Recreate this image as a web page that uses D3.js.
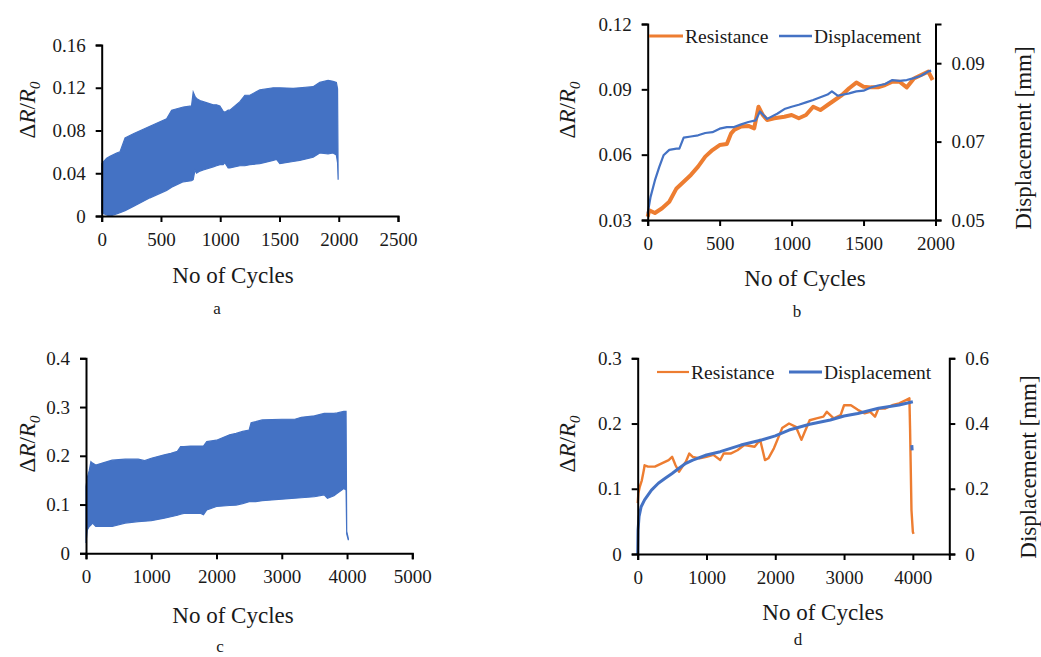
<!DOCTYPE html>
<html>
<head>
<meta charset="utf-8">
<script src="https://cdn.jsdelivr.net/npm/d3@7"></script>
<style>
  body { margin: 0; background: #fff; }
  svg { display: block; font-family: "Liberation Serif", "Times New Roman", serif; }
  svg text { font-family: "Liberation Serif", "Times New Roman", serif !important; }
  .tick text { fill: #1a1a1a; font-size: 19px; }
</style>
</head>
<body>
<svg width="1041" height="657"></svg>
<script>
// panel a: envelope of the oscillating resistance signal
const cyclesA = [0, 42, 70, 126, 154, 197, 267, 407, 548, 590, 688, 758, 772, 787, 800, 829, 857, 941, 969, 997, 1025, 1039, 1067, 1081, 1166, 1208, 1250, 1334, 1447, 1475, 1503, 1615, 1671, 1784, 1840, 1910, 1952, 1980, 1990, 1995];
const upperA  = [0.049, 0.054, 0.056, 0.059, 0.060, 0.073, 0.077, 0.084, 0.091, 0.099, 0.102, 0.103, 0.116, 0.112, 0.110, 0.108, 0.107, 0.104, 0.104, 0.103, 0.098, 0.097, 0.099, 0.099, 0.107, 0.113, 0.113, 0.118, 0.120, 0.120, 0.120, 0.1195, 0.120, 0.121, 0.125, 0.127, 0.126, 0.125, 0.119, 0.034];
const lowerA  = [0.003, 0.001, 0.000, 0.002, 0.003, 0.005, 0.009, 0.017, 0.024, 0.027, 0.032, 0.033, 0.034, 0.043, 0.040, 0.042, 0.043, 0.046, 0.047, 0.048, 0.048, 0.050, 0.045, 0.045, 0.047, 0.047, 0.048, 0.049, 0.052, 0.053, 0.049, 0.051, 0.052, 0.055, 0.059, 0.058, 0.059, 0.057, 0.050, 0.034];

// panel b: resistance (left axis) and displacement (right axis)
const cyclesBRes = [0, 10, 50, 100, 150, 200, 250, 300, 350, 400, 450, 500, 550, 580, 600, 650, 700, 740, 770, 800, 830, 880, 950, 1000, 1050, 1100, 1150, 1200, 1250, 1300, 1350, 1400, 1450, 1500, 1550, 1600, 1650, 1700, 1750, 1800, 1850, 1900, 1950, 1980];
const resB       = [0.0315, 0.0345, 0.0332, 0.0354, 0.0384, 0.0445, 0.0476, 0.0507, 0.0545, 0.0591, 0.0621, 0.0644, 0.0649, 0.0698, 0.0713, 0.0729, 0.0732, 0.0721, 0.082, 0.0782, 0.0759, 0.0767, 0.0774, 0.0782, 0.0767, 0.0782, 0.082, 0.0805, 0.0828, 0.0851, 0.0874, 0.0905, 0.0931, 0.0912, 0.0909, 0.0909, 0.092, 0.0935, 0.0935, 0.0909, 0.095, 0.0966, 0.0981, 0.0943];
const cyclesBDisp = [0, 20, 50, 80, 110, 150, 200, 220, 250, 300, 350, 400, 450, 500, 550, 600, 650, 700, 750, 780, 830, 900, 950, 1000, 1050, 1100, 1150, 1200, 1250, 1280, 1320, 1400, 1450, 1500, 1550, 1600, 1650, 1700, 1750, 1800, 1850, 1900, 1950, 1970];
const dispB       = [0.0517, 0.0559, 0.0601, 0.0635, 0.0665, 0.0679, 0.0682, 0.0682, 0.071, 0.0713, 0.0716, 0.0722, 0.0724, 0.0733, 0.0737, 0.0737, 0.0744, 0.075, 0.0754, 0.0777, 0.0758, 0.0771, 0.0783, 0.0789, 0.0794, 0.08, 0.0806, 0.0813, 0.082, 0.0828, 0.0817, 0.0823, 0.0828, 0.083, 0.0838, 0.0843, 0.0847, 0.0857, 0.0855, 0.0857, 0.0862, 0.0868, 0.0879, 0.0881];

// panel c: envelope of the oscillating resistance signal
const cyclesC = [0, 20, 50, 75, 100, 150, 250, 400, 600, 800, 900, 1000, 1200, 1300, 1400, 1450, 1500, 1600, 1750, 1800, 1850, 2000, 2200, 2300, 2400, 2500, 2530, 2600, 2700, 3000, 3200, 3300, 3500, 3650, 3700, 3800, 3850, 3950, 3985, 3995, 4020];
const upperC  = [0.137, 0.155, 0.170, 0.188, 0.185, 0.181, 0.185, 0.191, 0.193, 0.193, 0.190, 0.195, 0.202, 0.205, 0.209, 0.219, 0.219, 0.220, 0.220, 0.220, 0.229, 0.232, 0.243, 0.246, 0.250, 0.253, 0.268, 0.270, 0.2735, 0.275, 0.275, 0.279, 0.282, 0.287, 0.287, 0.287, 0.288, 0.291, 0.291, 0.045, 0.030];
const lowerC  = [0.021, 0.048, 0.055, 0.058, 0.062, 0.055, 0.055, 0.055, 0.062, 0.065, 0.066, 0.067, 0.072, 0.075, 0.078, 0.080, 0.082, 0.082, 0.082, 0.079, 0.089, 0.096, 0.098, 0.099, 0.102, 0.106, 0.106, 0.106, 0.108, 0.111, 0.113, 0.114, 0.116, 0.120, 0.113, 0.118, 0.123, 0.133, 0.130, 0.040, 0.027];

// panel d: resistance (left axis) and displacement (right axis)
const cyclesDRes = [0, 10, 30, 60, 90, 100, 150, 250, 350, 450, 500, 550, 600, 650, 700, 750, 800, 900, 1000, 1100, 1200, 1250, 1350, 1450, 1550, 1700, 1780, 1850, 1900, 1980, 2000, 2050, 2100, 2200, 2300, 2380, 2420, 2500, 2600, 2700, 2750, 2850, 2950, 3000, 3100, 3200, 3300, 3380, 3450, 3500, 3600, 3700, 3800, 3900, 3950, 3960, 3980, 4000, 4010];
const resD       = [0.078, 0.093, 0.103, 0.113, 0.129, 0.136, 0.134, 0.134, 0.139, 0.144, 0.149, 0.136, 0.126, 0.134, 0.1415, 0.154, 0.149, 0.1467, 0.149, 0.152, 0.144, 0.154, 0.154, 0.159, 0.167, 0.1645, 0.175, 0.144, 0.1467, 0.162, 0.167, 0.18, 0.193, 0.2, 0.195, 0.175, 0.185, 0.205, 0.208, 0.2105, 0.218, 0.208, 0.213, 0.228, 0.228, 0.221, 0.2156, 0.218, 0.2105, 0.223, 0.223, 0.228, 0.231, 0.236, 0.2386, 0.19, 0.0675, 0.034, 0.0307];
const cyclesDDisp = [0, 5, 20, 50, 100, 200, 300, 400, 500, 600, 700, 800, 1000, 1200, 1500, 1800, 2000, 2200, 2500, 2800, 3000, 3200, 3500, 3800, 4000];
const dispD       = [0, 0.074, 0.115, 0.145, 0.166, 0.196, 0.217, 0.232, 0.247, 0.263, 0.278, 0.288, 0.3035, 0.3137, 0.334, 0.3495, 0.362, 0.38, 0.398, 0.411, 0.423, 0.431, 0.447, 0.457, 0.467];
const cyclesDDispTail = [3985, 3990];
const dispDTail       = [0.334, 0.318];

// tick values
const ticksAX = [0, 500, 1000, 1500, 2000, 2500];
const ticksAY = [0, 0.04, 0.08, 0.12, 0.16];
const ticksBX = [0, 500, 1000, 1500, 2000];
const ticksBY = [0.03, 0.06, 0.09, 0.12];
const ticksBY2 = [0.05, 0.07, 0.09];
const ticksCX = [0, 1000, 2000, 3000, 4000, 5000];
const ticksCY = [0, 0.1, 0.2, 0.3, 0.4];
const ticksDX = [0, 1000, 2000, 3000, 4000];
const ticksDY = [0, 0.1, 0.2, 0.3];
const ticksDY2 = [0, 0.2, 0.4, 0.6];

const blue = '#4472C4';
const orange = '#ED7D31';
const svg = d3.select('svg');

function fmt(d) { return d === 0 ? '0' : String(d); }

function styleAxis(g) {
    g.attr('font-family', null).attr('font-size', null);
    g.select('.domain').attr('stroke', '#000').attr('stroke-width', 2);
    g.selectAll('.tick line').attr('stroke', '#000').attr('stroke-width', 2);
}

function axes(p) {
    const gx = svg.append('g')
        .attr('transform', `translate(0,${p.y.range()[0]})`)
        .call(d3.axisBottom(p.x).tickValues(p.tx).tickFormat(fmt).tickSizeOuter(0).tickSize(6).tickPadding(10))
        .call(styleAxis);
    gx.selectAll('.tick text').attr('dy', '0.74em');

    svg.append('g')
        .attr('transform', `translate(${p.x.range()[0]},0)`)
        .call(d3.axisLeft(p.y).tickValues(p.ty).tickFormat(fmt).tickSizeOuter(0).tickSize(6).tickPadding(10))
        .call(styleAxis);

    if (p.y2) {
        svg.append('g')
            .attr('transform', `translate(${p.x2end},0)`)
            .call(d3.axisRight(p.y2).tickValues(p.ty2).tickFormat(fmt).tickSizeOuter(0).tickSize(6).tickPadding(10))
            .call(styleAxis);
    }
}

function titles(p) {
    // y title  ΔR/R0
    const t = svg.append('text')
        .attr('transform', `translate(${p.ylab[0]},${p.ylab[1]}) rotate(-90)`)
        .attr('text-anchor', 'middle')
        .style('font-size', '23px')
        .attr('fill', '#1a1a1a');
    t.append('tspan').text('Δ');
    t.append('tspan').style('font-style', 'italic').text('R');
    t.append('tspan').text('/');
    t.append('tspan').style('font-style', 'italic').text('R');
    t.append('tspan').style('font-style', 'italic').style('font-size', '15px').attr('dy', 5).text('0');

    svg.append('text')
        .attr('x', p.xlab[0]).attr('y', p.xlab[1])
        .attr('text-anchor', 'middle')
        .style('font-size', '23px')
        .attr('fill', '#1a1a1a')
        .text('No of Cycles');

    svg.append('text')
        .attr('x', p.letter[0]).attr('y', p.letter[1])
        .attr('text-anchor', 'middle')
        .style('font-size', '17px')
        .attr('fill', '#1a1a1a')
        .text(p.name);

    if (p.y2lab) {
        svg.append('text')
            .attr('transform', `translate(${p.y2lab[0]},${p.y2lab[1]}) rotate(-90)`)
            .attr('text-anchor', 'middle')
            .style('font-size', '23px')
            .attr('fill', '#1a1a1a')
            .text('Displacement [mm]');
    }
}

function band(p, cyc, up, lo) {
    const pts = cyc.map((c, i) => ({c: c, u: up[i], l: lo[i]}));
    svg.append('path')
        .datum(pts)
        .attr('fill', blue)
        .attr('stroke', blue)
        .attr('stroke-width', 1.2)
        .attr('d', d3.area()
            .x(d => p.x(d.c))
            .y0(d => p.y(d.l))
            .y1(d => p.y(d.u)));
}

function line(x, y, cyc, vals, color, w) {
    const pts = cyc.map((c, i) => [c, vals[i]]);
    svg.append('path')
        .datum(pts)
        .attr('fill', 'none')
        .attr('stroke', color)
        .attr('stroke-width', w)
        .attr('stroke-linejoin', 'round')
        .attr('d', d3.line().x(d => x(d[0])).y(d => y(d[1])));
}

function legend(y0, items) {
    const g = svg.append('g').style('font-size', '19.5px');
    items.forEach(it => {
        g.append('line')
            .attr('x1', it.x1).attr('x2', it.x2)
            .attr('y1', y0).attr('y2', y0)
            .attr('stroke', it.color).attr('stroke-width', it.w);
        g.append('text')
            .attr('x', it.x2 + 2).attr('y', y0 + 7)
            .attr('fill', '#1a1a1a')
            .text(it.label);
    });
}

// ---- panel a
const pa = {
    name: 'a',
    x: d3.scaleLinear().domain([0, 2500]).range([101.7, 398]),
    y: d3.scaleLinear().domain([0, 0.16]).range([216, 45]),
    tx: ticksAX, ty: ticksAY,
    ylab: [35, 110], xlab: [233, 283], letter: [217, 314]
};
band(pa, cyclesA, upperA, lowerA);
axes(pa);
titles(pa);

// ---- panel b
const pb = {
    name: 'b',
    x: d3.scaleLinear().domain([0, 2000]).range([647.7, 935.5]),
    y: d3.scaleLinear().domain([0.03, 0.12]).range([220, 24]),
    y2: d3.scaleLinear().domain([0.05, 0.1]).range([220, 24]),
    x2end: 935.5,
    tx: ticksBX, ty: ticksBY, ty2: ticksBY2,
    ylab: [575, 110], xlab: [805, 286], letter: [797, 317], y2lab: [1031, 138]
};
line(pb.x, pb.y, cyclesBRes, resB, orange, 4);
line(pb.x, pb.y2, cyclesBDisp, dispB, blue, 2.2);
axes(pb);
titles(pb);
legend(36, [
    {x1: 649, x2: 683, color: orange, w: 3, label: 'Resistance'},
    {x1: 779, x2: 812, color: blue, w: 2.5, label: 'Displacement'}
]);

// ---- panel c
const pc = {
    name: 'c',
    x: d3.scaleLinear().domain([0, 5000]).range([86, 412.3]),
    y: d3.scaleLinear().domain([0, 0.4]).range([553.3, 358.3]),
    tx: ticksCX, ty: ticksCY,
    ylab: [35, 444], xlab: [233, 623], letter: [220, 652]
};
band(pc, cyclesC, upperC, lowerC);
axes(pc);
titles(pc);

// ---- panel d
const pd = {
    name: 'd',
    x: d3.scaleLinear().domain([0, 4530]).range([637.7, 949.3]),
    y: d3.scaleLinear().domain([0, 0.3]).range([554, 358.3]),
    y2: d3.scaleLinear().domain([0, 0.6]).range([554, 358.3]),
    x2end: 949.3,
    tx: ticksDX, ty: ticksDY, ty2: ticksDY2,
    ylab: [575, 444], xlab: [823, 620], letter: [798, 645], y2lab: [1036, 467]
};
line(pd.x, pd.y, cyclesDRes, resD, orange, 2.4);
line(pd.x, pd.y2, cyclesDDisp, dispD, blue, 3);
line(pd.x, pd.y2, cyclesDDispTail, dispDTail, blue, 3);
axes(pd);
titles(pd);
legend(372, [
    {x1: 657, x2: 689, color: orange, w: 2.2, label: 'Resistance'},
    {x1: 789, x2: 822, color: blue, w: 3, label: 'Displacement'}
]);
</script>
</body>
</html>
